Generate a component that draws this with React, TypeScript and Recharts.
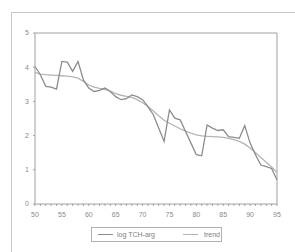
import { Line, LineChart, ReferenceLine, XAxis, YAxis } from 'recharts'

const years = [
  50, 51, 52, 53, 54, 55, 56, 57, 58, 59, 60, 61, 62, 63, 64, 65, 66, 67, 68, 69, 70, 71, 72,
  73, 74, 75, 76, 77, 78, 79, 80, 81, 82, 83, 84, 85, 86, 87, 88, 89, 90, 91, 92, 93, 94, 95,
]

const logTch = [
  4.02, 3.78, 3.44, 3.42, 3.36, 4.17, 4.15, 3.88, 4.17, 3.63, 3.39, 3.29, 3.32, 3.39, 3.29,
  3.14, 3.05, 3.08, 3.19, 3.14, 3.05, 2.85, 2.61, 2.22, 1.83, 2.75, 2.51, 2.46, 2.12, 1.78,
  1.44, 1.41, 2.31, 2.22, 2.15, 2.17, 1.97, 1.95, 1.92, 2.29, 1.78, 1.44, 1.14, 1.09, 1.04, 0.7,
]

const trend = [
  3.85, 3.8, 3.78, 3.77, 3.76, 3.75, 3.74, 3.72, 3.68, 3.58, 3.48, 3.42, 3.38, 3.35, 3.3,
  3.23, 3.18, 3.15, 3.12, 3.05, 2.96, 2.85, 2.72, 2.58, 2.45, 2.36, 2.28, 2.2, 2.13, 2.07,
  2.02, 1.99, 1.98, 1.97, 1.96, 1.95, 1.92, 1.88, 1.83, 1.75, 1.64, 1.5, 1.36, 1.22, 1.08, 0.92,
]

const xLabels = [50, 55, 60, 65, 70, 75, 80, 85, 90, 95]
const yTicks = [0, 1, 2, 3, 4, 5]

const data = years.map((year, i) => ({ year, logTch: logTch[i], trend: trend[i] }))

const axisGray = '#a0a0a0'
const tickFont = { fontSize: 7, fill: '#8a8a8a', fontFamily: 'Arial, sans-serif' }

export default function App() {
  return (
    <div
      style={{
        position: 'absolute',
        left: 0,
        top: 0,
        width: 295,
        height: 252,
        background: '#fff',
        fontFamily: 'Arial, sans-serif',
      }}
    >
      {/* outer frame of the scanned figure */}
      <div style={{ position: 'absolute', left: 11, top: 12, width: 284, height: 1, background: '#c8c8c8' }} />
      <div style={{ position: 'absolute', left: 11, top: 12, width: 1, height: 240, background: '#c8c8c8' }} />

      <LineChart
        width={295}
        height={252}
        data={data}
        margin={{ top: 33, right: 18, bottom: 28, left: 20 }}
        style={{ position: 'absolute', left: 0, top: 0 }}
      >
        <XAxis
          dataKey="year"
          type="number"
          domain={[50, 95]}
          ticks={years}
          interval={0}
          height={20}
          tickSize={2}
          tickMargin={6}
          tick={tickFont}
          tickFormatter={(v: number) => (xLabels.includes(v) ? String(v) : '')}
          stroke={axisGray}
        />
        <YAxis
          type="number"
          domain={[0, 5]}
          ticks={yTicks}
          width={15}
          tickSize={2}
          tickMargin={4}
          tick={tickFont}
          stroke={axisGray}
        />
        <ReferenceLine y={5} stroke={axisGray} />
        <ReferenceLine x={95} stroke={axisGray} />
        <Line
          dataKey="trend"
          stroke="#b4b4b4"
          strokeWidth={1.3}
          dot={false}
          isAnimationActive={false}
        />
        <Line
          dataKey="logTch"
          stroke="#8c8c8c"
          strokeWidth={1.3}
          dot={false}
          isAnimationActive={false}
        />
      </LineChart>

      <div
        style={{
          position: 'absolute',
          left: 91,
          top: 227,
          width: 131,
          height: 15,
          border: '1px solid #b0b0b0',
          display: 'flex',
          alignItems: 'center',
          fontSize: 7,
          color: '#808080',
          boxSizing: 'border-box',
        }}
      >
        <span style={{ marginLeft: 6, width: 15, height: 1, background: '#8c8c8c' }} />
        <span style={{ marginLeft: 4 }}>log TCH-arg</span>
        <span style={{ marginLeft: 28, width: 15, height: 1, background: '#b4b4b4' }} />
        <span style={{ marginLeft: 6 }}>trend</span>
      </div>
    </div>
  )
}
